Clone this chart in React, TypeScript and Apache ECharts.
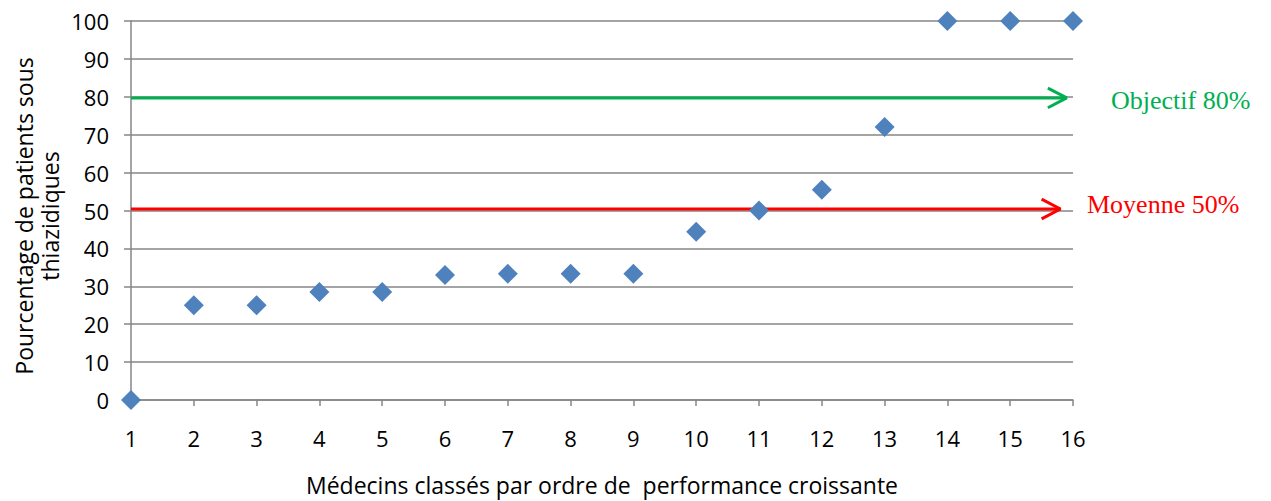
import React, { useEffect, useRef } from "react";
import * as echarts from "echarts";

const doctors = [1, 2, 3, 4, 5, 6, 7, 8, 9, 10, 11, 12, 13, 14, 15, 16];
const percentages = [0, 25, 25, 28.5, 28.5, 33, 33.3, 33.3, 33.3, 44.4, 50, 55.5, 72, 100, 100, 100];
const objectiveValue = 79.7;
const meanValue = 50.4;
const objectiveArrowEnd = 15.9;
const meanArrowEnd = 15.8;
const objectiveLabel = "Objectif 80%";
const meanLabel = "Moyenne 50%";
const xTitle = "Médecins classés par ordre de  performance croissante";
const yTitle = "Pourcentage de patients sous\nthiazidiques";

function arrowData(y: number, end: number): any[] {
  return [[1, y], [end, y]];
}
function headData(y: number, end: number): any[] {
  return [[end - 0.3, y + 2.6], [end, y], [end - 0.3, y - 2.6]];
}

export default function App() {
  const ref = useRef<HTMLDivElement>(null);
  useEffect(() => {
    if (!ref.current) return;
    const chart = echarts.init(ref.current, null, { renderer: "svg" });
    const font = "'Open Sans', 'Liberation Sans', sans-serif";
    chart.setOption({
      animation: false,
      grid: { left: 131, right: 198, top: 21, bottom: 101, outerBoundsMode: "none", containLabel: false },
      xAxis: {
        type: "value",
        min: 1,
        max: 16,
        interval: 1,
        name: xTitle,
        nameLocation: "middle",
        nameGap: 73,
        nameTextStyle: { fontFamily: font, fontSize: 23, color: "#000" },
        axisLine: { lineStyle: { color: "#868686", width: 1.5 } },
        axisTick: { show: true, length: 6, lineStyle: { color: "#868686", width: 1.5 } },
        axisLabel: { fontFamily: font, fontSize: 22, color: "#000", margin: 27 },
        splitLine: { show: false },
      },
      yAxis: {
        type: "value",
        min: 0,
        max: 100,
        interval: 10,
        axisLine: { show: true, lineStyle: { color: "#868686", width: 1.5 } },
        axisTick: { show: true, length: 7, lineStyle: { color: "#868686", width: 1.5 } },
        axisLabel: { fontFamily: font, fontSize: 22, color: "#000", margin: 22 },
        splitLine: { show: true, lineStyle: { color: "#868686", width: 1.5 } },
      },
      series: [
        {
          type: "line",
          data: arrowData(objectiveValue, objectiveArrowEnd),
          symbol: "none",
          lineStyle: { color: "#00B050", width: 3 },
          z: 3,
        },
        {
          type: "line",
          data: headData(objectiveValue, objectiveArrowEnd),
          symbol: "none",
          lineStyle: { color: "#00B050", width: 3 },
          z: 3,
        },
        {
          type: "line",
          data: arrowData(meanValue, meanArrowEnd),
          symbol: "none",
          lineStyle: { color: "#FF0000", width: 3 },
          z: 3,
        },
        {
          type: "line",
          data: headData(meanValue, meanArrowEnd),
          symbol: "none",
          lineStyle: { color: "#FF0000", width: 3 },
          z: 3,
        },
        {
          type: "scatter",
          data: doctors.map((d, i) => [d, percentages[i]]),
          symbol: "diamond",
          symbolSize: 20,
          itemStyle: { color: "#4F81BD", opacity: 1 },
          z: 5,
        },
      ],
      graphic: [
        {
          type: "text",
          x: 37,
          y: 216,
          rotation: Math.PI / 2,
          style: {
            text: yTitle,
            font: "23px 'Open Sans', 'Liberation Sans', sans-serif",
            fill: "#000",
            align: "center",
            verticalAlign: "middle",
            lineHeight: 26,
          },
        },
        {
          type: "text",
          x: 1111,
          y: 100,
          style: {
            text: objectiveLabel,
            font: "26px 'Liberation Serif', serif",
            fill: "#00B050",
            verticalAlign: "middle",
          },
        },
        {
          type: "text",
          x: 1087,
          y: 204,
          style: {
            text: meanLabel,
            font: "26px 'Liberation Serif', serif",
            fill: "#FF0000",
            verticalAlign: "middle",
          },
        },
      ],
    });
    return () => chart.dispose();
  }, []);
  return <div ref={ref} style={{ width: 1271, height: 501, position: "absolute", left: 0, top: 0 }} />;
}
